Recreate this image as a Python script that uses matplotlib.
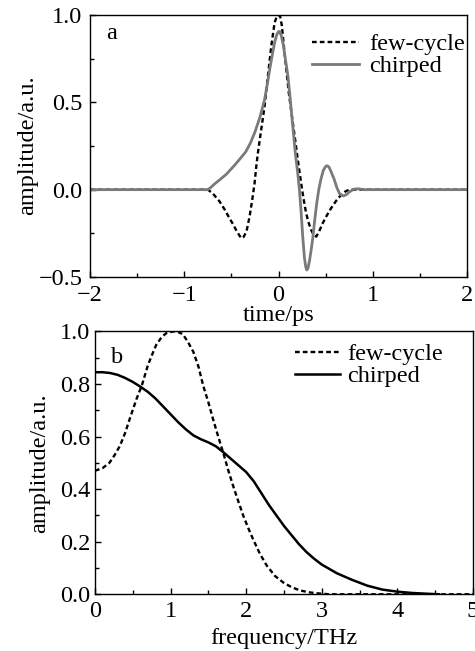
import matplotlib
matplotlib.use('Agg')
import matplotlib.pyplot as plt
from matplotlib.ticker import MultipleLocator

plt.rcParams['font.family'] = ['Liberation Serif', 'DejaVu Serif']
plt.rcParams['font.size'] = 17.5

# (a) time domain
t_few = [-2.0, -0.9, -0.75, -0.70, -0.625, -0.57, -0.52, -0.48, -0.45, -0.42,
         -0.395, -0.37, -0.34, -0.307, -0.279, -0.254, -0.236, -0.219, -0.19, -0.148,
         -0.113, -0.077, -0.042, -0.02, 0.003, 0.018, 0.035, 0.064, 0.109, 0.14,
         0.178, 0.21, 0.24, 0.265, 0.293, 0.32, 0.346, 0.375, 0.40, 0.43,
         0.469, 0.51, 0.558, 0.61, 0.664, 0.71, 0.75, 0.9, 2.0]
a_few = [0.0, 0.0, 0.0, -0.02, -0.068, -0.115, -0.164, -0.20, -0.231, -0.258,
         -0.278, -0.27, -0.24, -0.154, -0.059, 0.037, 0.133, 0.209, 0.32, 0.477,
         0.649, 0.821, 0.955, 0.99, 1.0, 0.99, 0.94, 0.783, 0.554, 0.43,
         0.28, 0.15, 0.037, -0.05, -0.135, -0.19, -0.231, -0.26, -0.269, -0.24,
         -0.192, -0.15, -0.106, -0.065, -0.03, -0.01, 0.0, 0.0, 0.0]

t_chirp = [-2.0, -0.9, -0.75, -0.72, -0.68, -0.625, -0.554, -0.466, -0.40, -0.35,
           -0.30, -0.25, -0.20, -0.15, -0.12, -0.09, -0.06, -0.04, -0.02, 0.0,
           0.015, 0.03, 0.05, 0.075, 0.10, 0.124, 0.15, 0.18, 0.204, 0.222,
           0.24, 0.257, 0.275, 0.29, 0.30, 0.312, 0.328, 0.345, 0.363, 0.385,
           0.405, 0.427, 0.45, 0.475, 0.50, 0.516, 0.535, 0.56, 0.59, 0.62,
           0.65, 0.69, 0.72, 0.76, 0.80, 0.85, 0.9, 2.0]
a_chirp = [0.0, 0.0, 0.0, 0.012, 0.032, 0.056, 0.088, 0.14, 0.182, 0.215,
           0.265, 0.33, 0.41, 0.51, 0.60, 0.70, 0.79, 0.845, 0.885, 0.905,
           0.905, 0.88, 0.83, 0.74, 0.65, 0.52, 0.37, 0.20, 0.095, 0.0,
           -0.13, -0.27, -0.39, -0.445, -0.46, -0.45, -0.41, -0.35, -0.28, -0.17,
           -0.08, 0.0, 0.06, 0.11, 0.133, 0.137, 0.13, 0.10, 0.06, 0.01,
           -0.025, -0.036, -0.028, -0.01, 0.003, 0.005, 0.0, 0.0]

# (b) spectrum
f_few = [0.0, 0.1, 0.19, 0.26, 0.33, 0.4, 0.46, 0.55, 0.62, 0.70,
         0.76, 0.81, 0.88, 0.94, 1.03, 1.1, 1.16, 1.23, 1.30, 1.37,
         1.43, 1.5, 1.56, 1.63, 1.70, 1.77, 1.83, 1.9, 1.96, 2.03,
         2.09, 2.18, 2.27, 2.38, 2.49, 2.6, 2.71, 2.82, 2.93, 3.1, 5.0]
s_few = [0.47, 0.48, 0.50, 0.53, 0.565, 0.615, 0.668, 0.744, 0.795, 0.872,
         0.915, 0.949, 0.978, 0.993, 1.0, 0.998, 0.99, 0.96, 0.923, 0.865,
         0.795, 0.73, 0.668, 0.60, 0.535, 0.465, 0.41, 0.35, 0.30, 0.25,
         0.21, 0.155, 0.11, 0.07, 0.045, 0.027, 0.015, 0.008, 0.004, 0.0, 0.0]

f_chirp = [0.0, 0.1, 0.2, 0.3, 0.4, 0.5, 0.6, 0.7, 0.8, 0.9,
           1.0, 1.1, 1.2, 1.3, 1.4, 1.5, 1.6, 1.7, 1.8, 1.9,
           2.0, 2.1, 2.2, 2.3, 2.4, 2.5, 2.6, 2.7, 2.8, 2.9,
           3.0, 3.2, 3.4, 3.6, 3.8, 4.0, 4.2, 4.4, 4.55]
s_chirp = [0.845, 0.845, 0.842, 0.835, 0.823, 0.808, 0.79, 0.77, 0.745, 0.715,
           0.685, 0.655, 0.628, 0.605, 0.59, 0.578, 0.563, 0.54, 0.515, 0.49,
           0.465, 0.43, 0.385, 0.34, 0.30, 0.26, 0.225, 0.19, 0.16, 0.135,
           0.113, 0.08, 0.055, 0.033, 0.018, 0.01, 0.005, 0.002, 0.0]

gray = '#7a7a7a'
dash = (0, (2.0, 1.3))

fig = plt.figure(figsize=(4.75, 6.51), dpi=100)
ax1 = fig.add_axes([0.1895, 0.5745, 0.7937, 0.4025])
ax2 = fig.add_axes([0.2, 0.0871, 0.7958, 0.4037])

ax1.plot(t_few, a_few, color='black', lw=1.7, linestyle=dash, label='few-cycle')
ax1.plot(t_chirp, a_chirp, color=gray, lw=2.0, label='chirped')
ax1.set_xlim(-2, 2)
ax1.set_ylim(-0.5, 1.0)
ax1.xaxis.set_major_locator(MultipleLocator(1))
ax1.xaxis.set_minor_locator(MultipleLocator(0.5))
ax1.yaxis.set_major_locator(MultipleLocator(0.5))
ax1.yaxis.set_minor_locator(MultipleLocator(0.25))
ax1.set_xlabel('time/ps')
ax1.set_ylabel('amplitude/a.u.')
ax1.xaxis.set_label_coords(0.5, -0.108)
ax1.yaxis.set_label_coords(-0.138, 0.504)
ax1.text(0.058, 0.931, 'a', transform=ax1.transAxes, ha='center', va='center')
ax1.legend(loc='upper left', bbox_to_anchor=(0.59, 0.93), frameon=False,
           borderpad=0, borderaxespad=0, handlelength=1.93, handletextpad=0.41,
           labelspacing=0.0)

ax2.plot(f_few, s_few, color='black', lw=1.7, linestyle=dash, label='few-cycle')
ax2.plot(f_chirp, s_chirp, color='black', lw=1.8, label='chirped')
ax2.set_xlim(0, 5)
ax2.set_ylim(0, 1.0)
ax2.xaxis.set_major_locator(MultipleLocator(1))
ax2.xaxis.set_minor_locator(MultipleLocator(0.5))
ax2.yaxis.set_major_locator(MultipleLocator(0.2))
ax2.yaxis.set_minor_locator(MultipleLocator(0.1))
ax2.set_xlabel('frequency/THz')
ax2.set_ylabel('amplitude/a.u.')
ax2.xaxis.set_label_coords(0.5, -0.13)
ax2.yaxis.set_label_coords(-0.119, 0.5)
ax2.text(0.058, 0.90, 'b', transform=ax2.transAxes, ha='center', va='center')
ax2.legend(loc='upper left', bbox_to_anchor=(0.53, 0.955), frameon=False,
           borderpad=0, borderaxespad=0, handlelength=1.85, handletextpad=0.3,
           labelspacing=0.0)

for ax in (ax1, ax2):
    ax.tick_params(which='both', direction='in', top=False, right=False)
    ax.tick_params(which='major', length=4, width=1)
    ax.tick_params(which='minor', length=3, width=1)
    for s in ax.spines.values():
        s.set_linewidth(1.0)

ax1.tick_params(axis='x', which='major', pad=6)
ax1.tick_params(axis='y', which='major', pad=5.5)
ax2.tick_params(axis='x', which='major', pad=5)
ax2.tick_params(axis='y', which='major', pad=3.5)

fig.savefig('out.png', dpi=100)
